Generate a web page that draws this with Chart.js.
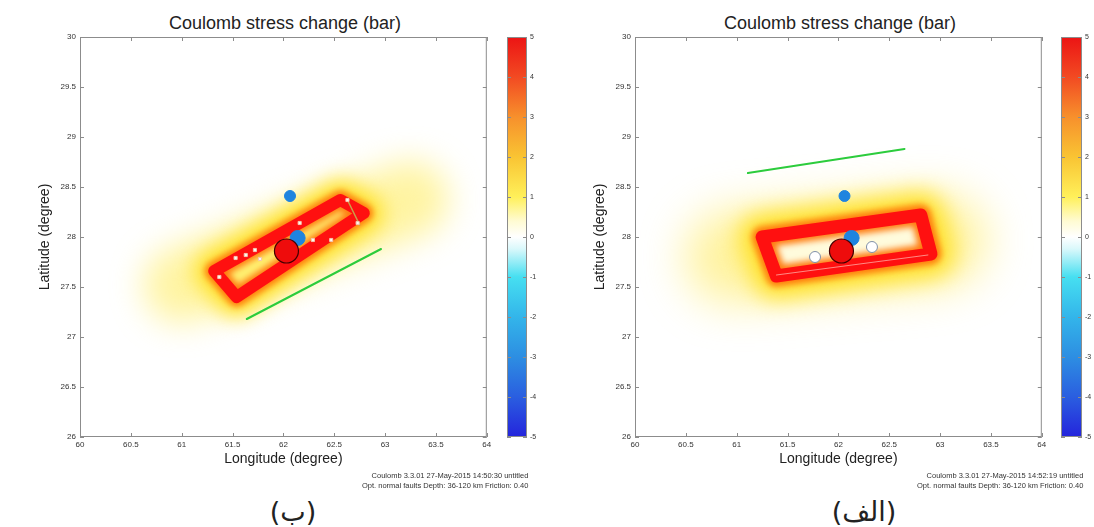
<!DOCTYPE html>
<html lang="en">
<head>
<meta charset="UTF-8">
<title>Coulomb stress change (bar)</title>
<script src="https://cdn.jsdelivr.net/npm/chart.js"></script>
<style>
    body { margin: 0; background: #fff; width: 1094px; height: 527px; position: relative; overflow: hidden;
           font-family: "Liberation Sans", Arial, sans-serif; }
    .box { position: absolute; }
    .title { position: absolute; top: 11px; font-size: 18px; color: #222; text-align: center; line-height: 24px; white-space: nowrap; }
    .note { position: absolute; font-size: 7.5px; color: #333; text-align: right; line-height: 10px; white-space: nowrap;
            will-change: transform; }
    .tag { position: absolute; width: 120px; text-align: center; font-family: "DejaVu Sans", sans-serif; font-size: 27px; color: #222; line-height: 30px; }
</style>
</head>
<body>
<div class="title" style="left:80px;width:410px">Coulomb stress change (bar)</div>
<div class="title" style="left:635px;width:410px">Coulomb stress change (bar)</div>

<div class="box" style="left:0;top:0;width:500px;height:470px"><canvas id="mapB"></canvas></div>
<div class="box" style="left:500px;top:0;width:47px;height:470px"><canvas id="barB"></canvas></div>
<div class="box" style="left:555px;top:0;width:500px;height:470px"><canvas id="mapA"></canvas></div>
<div class="box" style="left:1054px;top:0;width:40px;height:470px"><canvas id="barA"></canvas></div>

<div class="note" style="right:566px;top:471px">Coulomb 3.3.01 27-May-2015 14:50:30 untitled<br>Opt. normal faults Depth: 36-120 km Friction: 0.40</div>
<div class="note" style="right:11px;top:471px">Coulomb 3.3.01 27-May-2015 14:52:19 untitled<br>Opt. normal faults Depth: 36-120 km Friction: 0.40</div>

<div class="tag" dir="rtl" style="left:233px;top:497px">(ب)</div>
<div class="tag" dir="rtl" style="left:804px;top:497px">(الف)</div>

<script>
    // axes
    const lonTicks = [60, 60.5, 61, 61.5, 62, 62.5, 63, 63.5, 64];
    const latTicks = [26, 26.5, 27, 27.5, 28, 28.5, 29, 29.5, 30];
    const barTicks = [-5, -4, -3, -2, -1, 0, 1, 2, 3, 4, 5];
    const barStops = [-5, -4, -3, -2, -1, -0.3, 0, 0.4, 1, 2, 3, 4, 5];
    const barColors = ['#2424dc', '#2a5ee0', '#2d8ee2', '#33b5ea', '#46dff1', '#d9f8fb', '#ffffff',
                       '#fffbd2', '#fff05a', '#f9c433', '#f7902c', '#f24a22', '#ec1414'];

    // panel (ب)
    const faultB = [[61.32, 27.66], [62.56, 28.37], [62.79, 28.24], [61.54, 27.40], [61.32, 27.66]];
    const haloB = [[61.0, 27.52], [63.25, 28.38]];
    const greenB = [[61.64, 27.18], [62.96, 27.88]];
    const traceB = [[62.63, 28.37], [62.75, 28.12]];
    const specksB = [[61.53, 27.79], [61.63, 27.82], [61.72, 27.87], [61.77, 27.78], [62.29, 27.97],
                     [62.47, 27.97], [62.63, 28.37], [62.73, 28.14], [62.16, 28.14], [61.37, 27.60]];
    const smallBlueB = [[62.065, 28.41]];
    const bigBlueB = [[62.14, 27.99]];
    const mainB = [[62.03, 27.86]];

    // panel (الف)
    const faultA = [[61.25, 28.00], [62.81, 28.22], [62.91, 27.83], [61.39, 27.61], [61.25, 28.00]];
    const haloA = [[60.95, 27.80], [63.0, 27.97]];
    const seamA = [[61.39, 27.62], [62.88, 27.82]];
    const greenA = [[61.11, 28.64], [62.65, 28.88]];
    const openA = [[61.77, 27.80], [62.33, 27.90]];
    const smallBlueA = [[62.06, 28.41]];
    const bigBlueA = [[62.13, 27.99]];
    const mainA = [[62.03, 27.86]];

    Chart.defaults.font.family = '"Liberation Sans", Arial, sans-serif';

    const blurLayers = {
        id: 'blurLayers',
        beforeDatasetDraw(chart, args) {
            const ds = chart.data.datasets[args.index];
            chart.ctx.save();
            if (ds.blur) chart.ctx.filter = 'blur(' + ds.blur + 'px)';
        },
        afterDatasetDraw(chart) {
            chart.ctx.restore();
        }
    };

    // box round the axes with inward ticks, like matlab
    const axesBox = {
        id: 'axesBox',
        afterDatasetsDraw(chart) {
            const {ctx, chartArea: a, scales} = chart;
            const t = 4;
            ctx.save();
            ctx.strokeStyle = '#8c8c8c';
            ctx.lineWidth = 1;
            ctx.strokeRect(a.left + 0.5, a.top + 0.5, a.width - 1, a.height - 1);
            ctx.beginPath();
            if (scales.x.options.display) {
                scales.x.ticks.forEach(tk => {
                    const px = Math.round(scales.x.getPixelForValue(tk.value)) + 0.5;
                    ctx.moveTo(px, a.bottom); ctx.lineTo(px, a.bottom - t);
                    ctx.moveTo(px, a.top); ctx.lineTo(px, a.top + t);
                });
            }
            scales.y.ticks.forEach(tk => {
                const py = Math.round(scales.y.getPixelForValue(tk.value)) + 0.5;
                ctx.moveTo(a.left, py); ctx.lineTo(a.left + t, py);
                ctx.moveTo(a.right, py); ctx.lineTo(a.right - t, py);
            });
            ctx.stroke();
            ctx.restore();
        }
    };

    const pts = arr => arr.map(p => ({x: p[0], y: p[1]}));
    const plain = v => String(v);

    function line(arr, style) {
        return Object.assign({
            data: pts(arr), showLine: true, pointRadius: 0, tension: 0,
            borderJoinStyle: 'round', borderCapStyle: 'round', fill: false
        }, style);
    }

    function dots(arr, style) {
        return Object.assign({data: pts(arr), showLine: false, pointBorderWidth: 1}, style);
    }

    function mapChart(id, layers) {
        // layers are listed bottom to top; chart.js paints index 0 last
        return new Chart(document.getElementById(id), {
            type: 'scatter',
            data: {datasets: layers.slice().reverse()},
            options: {
                responsive: true,
                maintainAspectRatio: false,
                animation: false,
                events: [],
                layout: {padding: {top: 37, right: 10, left: 0, bottom: 0}},
                plugins: {legend: {display: false}, tooltip: {enabled: false}},
                scales: {
                    x: {
                        type: 'linear', min: 60, max: 64,
                        afterBuildTicks: s => { s.ticks = lonTicks.map(v => ({value: v})); },
                        afterFit: s => { s.height = 33; },
                        grid: {display: false, drawTicks: false},
                        border: {display: false},
                        ticks: {font: {size: 8}, color: '#333', padding: 3, maxRotation: 0, autoSkip: false, callback: plain},
                        title: {display: true, text: 'Longitude (degree)', font: {size: 14}, color: '#222',
                                padding: {top: 0, bottom: 2.6}}
                    },
                    y: {
                        type: 'linear', min: 26, max: 30,
                        afterBuildTicks: s => { s.ticks = latTicks.map(v => ({value: v})); },
                        afterFit: s => { s.width = 80; },
                        grid: {display: false, drawTicks: false},
                        border: {display: false},
                        ticks: {font: {size: 8}, color: '#333', padding: 4, autoSkip: false, callback: plain},
                        title: {display: true, text: 'Latitude (degree)', font: {size: 14}, color: '#222',
                                padding: {top: 36.6, bottom: 0}}
                    }
                }
            },
            plugins: [blurLayers, axesBox]
        });
    }

    function barFill(c) {
        const a = c.chart.chartArea;
        if (!a) return '#fff';
        const g = c.chart.ctx.createLinearGradient(0, a.bottom, 0, a.top);
        barStops.forEach((v, i) => g.addColorStop((v + 5) / 10, barColors[i]));
        return g;
    }

    function colorBar(id, axisWidth) {
        return new Chart(document.getElementById(id), {
            type: 'bar',
            data: {
                labels: [''],
                datasets: [{data: [[barTicks[0], barTicks[barTicks.length - 1]]], backgroundColor: barFill,
                            borderWidth: 0, barPercentage: 1, categoryPercentage: 1}]
            },
            options: {
                responsive: true,
                maintainAspectRatio: false,
                animation: false,
                events: [],
                layout: {padding: {left: 7, top: 37, bottom: 33, right: 0}},
                plugins: {legend: {display: false}, tooltip: {enabled: false}},
                scales: {
                    x: {display: false},
                    y: {
                        position: 'right', min: -5, max: 5,
                        afterBuildTicks: s => { s.ticks = barTicks.map(v => ({value: v})); },
                        afterFit: s => { s.width = axisWidth; },
                        grid: {display: false, drawTicks: false},
                        border: {display: false},
                        ticks: {font: {size: 7}, color: '#333', padding: 3, callback: plain}
                    }
                }
            },
            plugins: [axesBox]
        });
    }

    mapChart('mapB', [
        line(haloB, {borderColor: 'rgba(255,236,100,0.6)', borderWidth: 76, blur: 16}),
        line(faultB, {borderColor: '#ffe22a', borderWidth: 40, blur: 10}),
        line(faultB, {borderColor: 'rgba(0,0,0,0)', borderWidth: 0, fill: 'shape', backgroundColor: '#fff070'}),
        line(faultB, {borderColor: '#ff7b10', borderWidth: 19, blur: 3}),
        line(faultB, {borderColor: '#ff1010', borderWidth: 12, blur: 0.6}),
        line(traceB, {borderColor: '#caa04a', borderWidth: 1.5}),
        line(greenB, {borderColor: '#2ccc3c', borderWidth: 2}),
        dots(specksB, {pointStyle: 'rect', pointRadius: 2.2, backgroundColor: '#fff8f0', borderColor: '#f2c8b0'}),
        dots(smallBlueB, {pointRadius: 5.5, backgroundColor: '#1f84df', borderColor: '#1f84df'}),
        dots(bigBlueB, {pointRadius: 7.5, backgroundColor: '#1f84df', borderColor: '#1f84df'}),
        dots(mainB, {pointRadius: 12, backgroundColor: '#ee0c0c', borderColor: '#400', pointBorderWidth: 1.2})
    ]);

    mapChart('mapA', [
        line(haloA, {borderColor: 'rgba(255,234,90,0.6)', borderWidth: 92, blur: 22}),
        line(faultA, {borderColor: '#ffe22a', borderWidth: 46, blur: 11}),
        line(faultA, {borderColor: 'rgba(0,0,0,0)', borderWidth: 0, fill: 'shape', backgroundColor: '#fffbdc'}),
        line(faultA, {borderColor: '#ff7b10', borderWidth: 21, blur: 3}),
        line(faultA, {borderColor: '#ff1010', borderWidth: 13, blur: 0.6}),
        line(seamA, {borderColor: 'rgba(255,220,210,0.6)', borderWidth: 1}),
        line(greenA, {borderColor: '#2ccc3c', borderWidth: 2}),
        dots(openA, {pointRadius: 5.5, backgroundColor: '#ffffff', borderColor: '#8090a8'}),
        dots(smallBlueA, {pointRadius: 5.5, backgroundColor: '#1f84df', borderColor: '#1f84df'}),
        dots(bigBlueA, {pointRadius: 7.5, backgroundColor: '#1f84df', borderColor: '#1f84df'}),
        dots(mainA, {pointRadius: 12, backgroundColor: '#ee0c0c', borderColor: '#400', pointBorderWidth: 1.2})
    ]);

    colorBar('barB', 20);
    colorBar('barA', 12);
</script>
</body>
</html>
